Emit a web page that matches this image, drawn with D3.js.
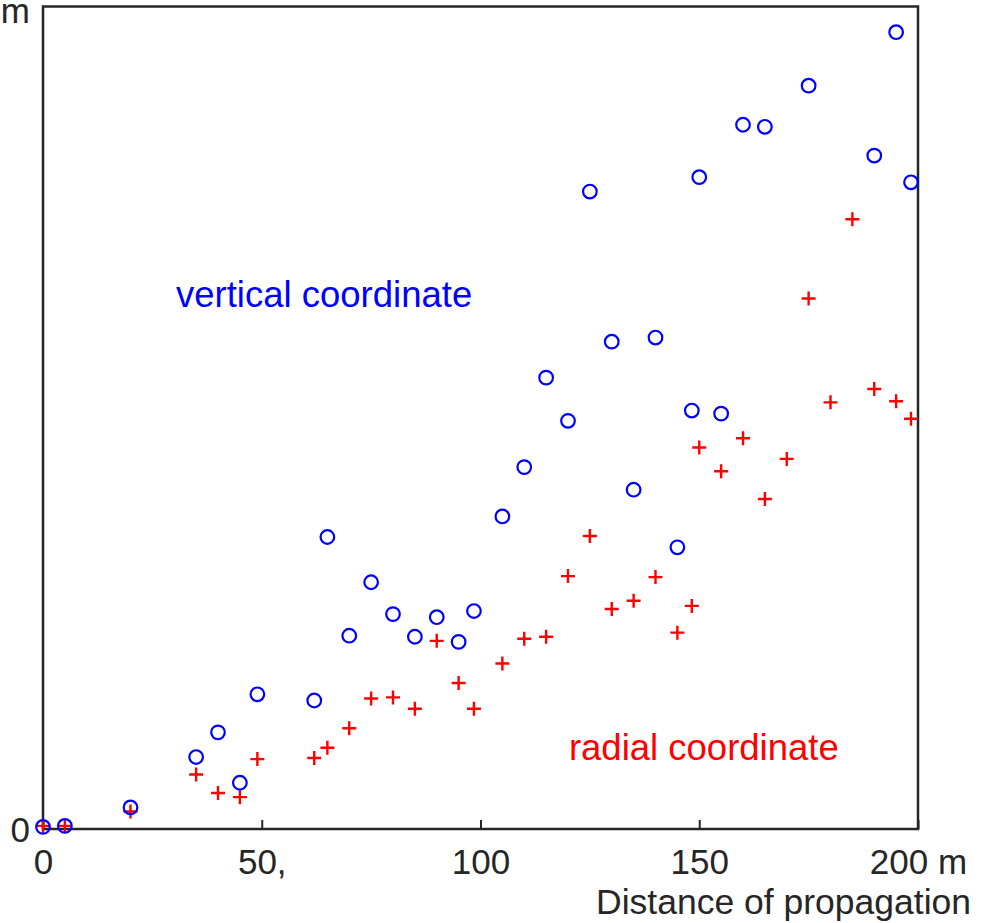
<!DOCTYPE html>
<html>
<head>
<meta charset="utf-8">
<script src="https://cdn.jsdelivr.net/npm/d3@7"></script>
<style>
  body { margin: 0; background: #fff; }
  text { font-family: "Liberation Sans", Arial, Helvetica, sans-serif; }
</style>
</head>
<body>
<div id="chart"></div>
<script>
// distance of propagation (m) and the two coordinates (arbitrary units, 0..8 = 0..m)
const verticalX = [0, 5, 20, 35, 40, 45, 49, 62, 65, 70, 75, 80, 85, 90, 95, 98.5, 105, 110, 115, 120,
  125, 130, 135, 140, 145, 148.3, 150, 155, 160, 165, 175, 190, 195, 198.4];
const verticalY = [0.02, 0.03, 0.21, 0.70, 0.94, 0.45, 1.31, 1.25, 2.84, 1.88, 2.40, 2.09, 1.87, 2.06, 1.82, 2.12, 3.04, 3.52, 4.39, 3.97,
  6.20, 4.74, 3.30, 4.78, 2.74, 4.07, 6.34, 4.04, 6.85, 6.83, 7.23, 6.55, 7.75, 6.29];

const radialX = [0, 5, 20, 35, 40, 45, 49, 62, 65, 70, 75, 80, 85, 90, 95, 98.5, 105, 110, 115, 120,
  125, 130, 135, 140, 145, 148.3, 150, 155, 160, 165, 170, 175, 180, 185, 190, 195, 198.4];
const radialY = [0.03, 0.03, 0.17, 0.53, 0.35, 0.31, 0.68, 0.69, 0.79, 0.98, 1.27, 1.28, 1.17, 1.83, 1.42, 1.17, 1.61, 1.85, 1.87, 2.46,
  2.85, 2.14, 2.22, 2.45, 1.91, 2.17, 3.71, 3.48, 3.80, 3.21, 3.60, 5.16, 4.15, 5.93, 4.28, 4.16, 3.99];

const xTicks = [0, 50, 100, 150, 200];
const xTickLabels = ["0", "50,", "100", "150", "200 m"];
const yTicks = [0, 8];
const yTickLabels = ["0", "m"];

const W = 982, H = 923;
const margin = {top: 6.5, right: 64, bottom: 94, left: 43};
const width = W - margin.left - margin.right;
const height = H - margin.top - margin.bottom;

const x = d3.scaleLinear().domain([0, 200]).range([0, width]);
const y = d3.scaleLinear().domain([0, 8]).range([height, 0]);

const svg = d3.select("#chart").append("svg")
  .attr("width", W)
  .attr("height", H)
  .append("g")
  .attr("transform", "translate(" + margin.left + "," + margin.top + ")");

const axisColor = "#262626";

// x axis with inward ticks
const xAxis = svg.append("g")
  .attr("transform", "translate(0," + height + ")")
  .call(d3.axisBottom(x).tickValues(xTicks).tickSizeInner(-9).tickSizeOuter(0)
    .tickFormat((d, i) => xTickLabels[i]));
xAxis.select(".domain").remove();
xAxis.selectAll("line").attr("stroke", axisColor).attr("stroke-width", 2);
xAxis.selectAll("text")
  .attr("y", 45)
  .attr("dy", 0)
  .attr("fill", axisColor)
  .style("font-size", "35px");

const yAxis = svg.append("g")
  .call(d3.axisLeft(y).tickValues(yTicks).tickSizeInner(0).tickSizeOuter(0)
    .tickFormat((d, i) => yTickLabels[i]));
yAxis.select(".domain").remove();
yAxis.selectAll("text")
  .attr("x", -13)
  .attr("dy", "0.36em")
  .attr("fill", axisColor)
  .style("font-size", "35px");
yAxis.selectAll(".tick").filter(d => d === 8).select("text").attr("dy", 16);

// box
svg.append("rect")
  .attr("width", width)
  .attr("height", height)
  .attr("fill", "none")
  .attr("stroke", axisColor)
  .attr("stroke-width", 2.5);

svg.append("text")
  .attr("x", width + 53)
  .attr("y", height + 85)
  .attr("text-anchor", "end")
  .attr("fill", axisColor)
  .style("font-size", "35.5px")
  .text("Distance of propagation");

// radial coordinate: plus markers
const arm = 7;
svg.append("g").selectAll("path")
  .data(d3.range(radialX.length))
  .enter().append("path")
  .attr("d", i => {
    const px = x(radialX[i]), py = y(radialY[i]);
    return "M" + (px - arm) + "," + py + "H" + (px + arm) + "M" + px + "," + (py - arm) + "V" + (py + arm);
  })
  .attr("stroke", "#ff0000")
  .attr("stroke-width", 2.4)
  .attr("fill", "none");

// vertical coordinate: circle markers
svg.append("g").selectAll("circle")
  .data(d3.range(verticalX.length))
  .enter().append("circle")
  .attr("cx", i => x(verticalX[i]))
  .attr("cy", i => y(verticalY[i]))
  .attr("r", 6.8)
  .attr("fill", "none")
  .attr("stroke", "#0000ff")
  .attr("stroke-width", 2.2);

// annotations
svg.append("text")
  .attr("x", x(30.4))
  .attr("y", y(5.08))
  .attr("fill", "#0000ff")
  .style("font-size", "36.5px")
  .text("vertical coordinate");

svg.append("text")
  .attr("x", x(120.2))
  .attr("y", y(0.67))
  .attr("fill", "#ff0000")
  .style("font-size", "36.5px")
  .text("radial coordinate");
</script>
</body>
</html>
